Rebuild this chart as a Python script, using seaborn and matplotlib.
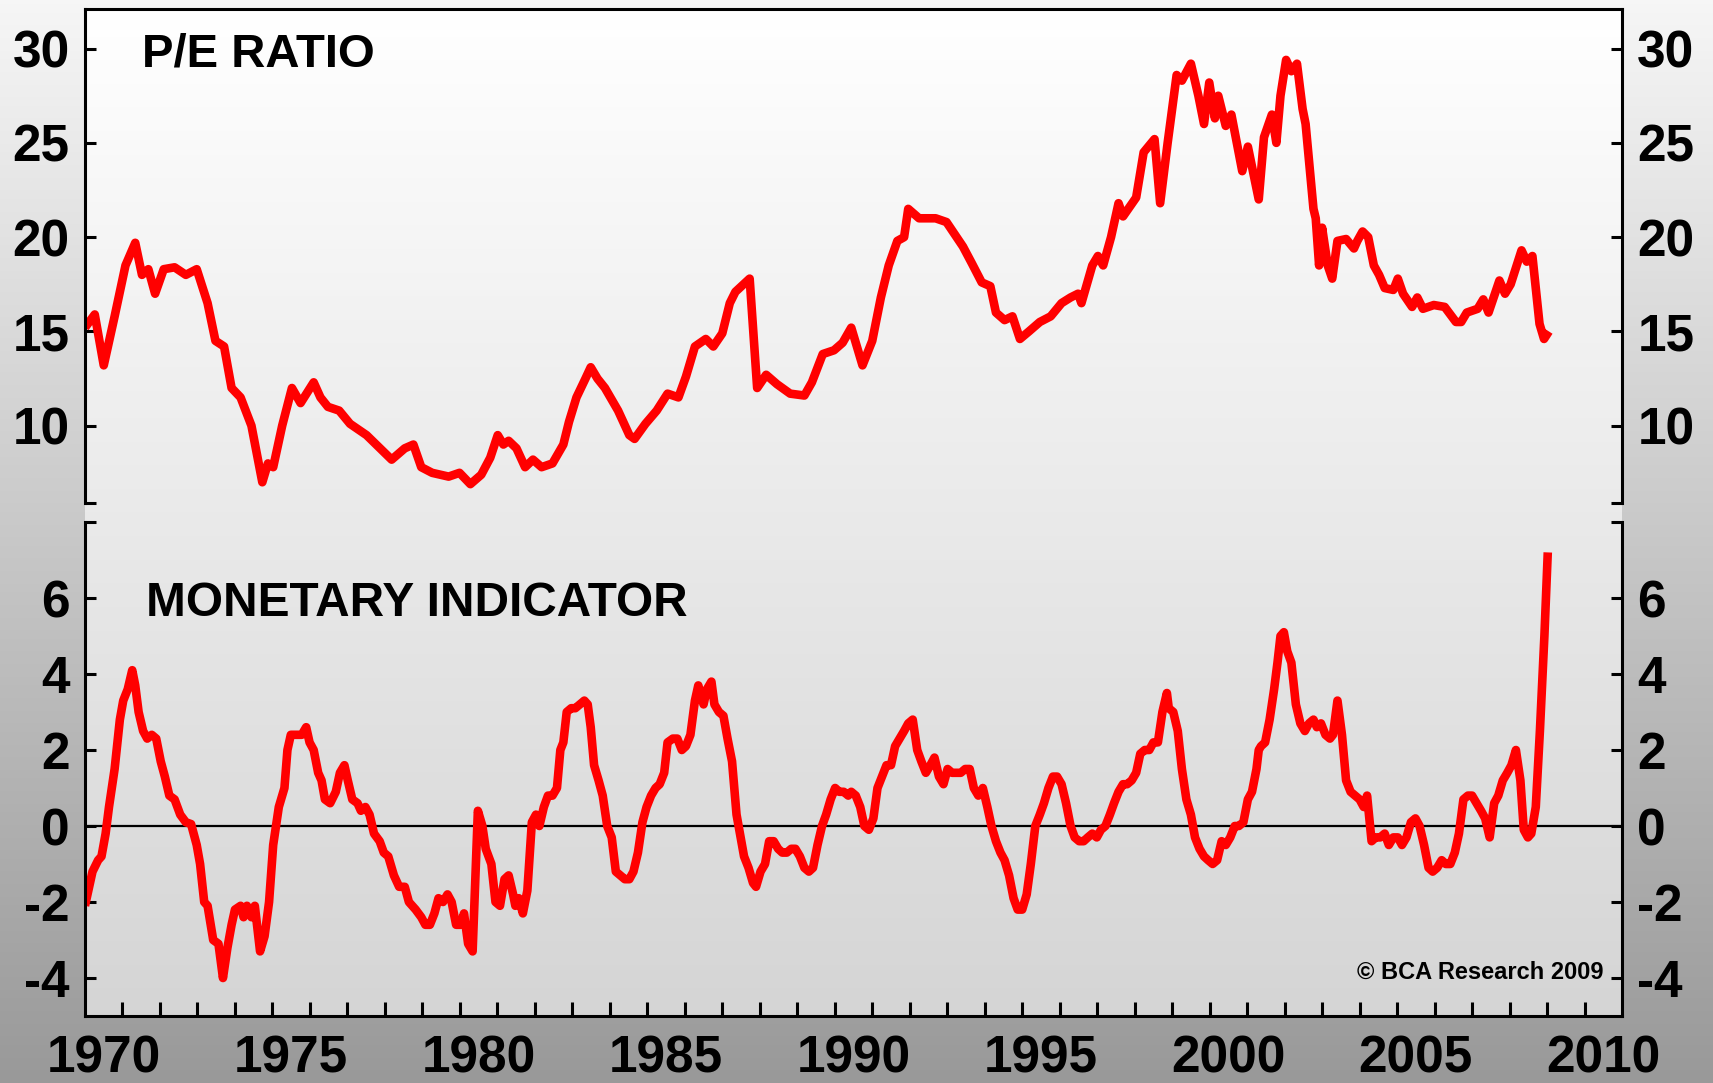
import numpy as np
import matplotlib
matplotlib.use('Agg')
import matplotlib.pyplot as plt
import seaborn as sns


# P/E ratio (decimal years, value)
pe_year = [1970.00, 1970.26, 1970.50, 1970.79, 1971.08, 1971.34, 1971.52, 1971.69, 1971.87, 1972.10,
           1972.39, 1972.69, 1972.98, 1973.27, 1973.48, 1973.71, 1973.91, 1974.15, 1974.44, 1974.73,
           1974.88, 1975.02, 1975.26, 1975.52, 1975.75, 1976.10, 1976.28, 1976.48, 1976.78, 1977.07,
           1977.51, 1978.18, 1978.53, 1978.76, 1978.97, 1979.26, 1979.70, 1979.99, 1980.28, 1980.57,
           1980.81, 1981.01, 1981.16, 1981.30, 1981.51, 1981.74, 1981.95, 1982.18, 1982.47, 1982.76,
           1982.91, 1983.11, 1983.35, 1983.49, 1983.67, 1983.87, 1984.22, 1984.52, 1984.66, 1984.95,
           1985.25, 1985.54, 1985.83, 1986.03, 1986.27, 1986.56, 1986.76, 1987.00, 1987.20, 1987.35,
           1987.73, 1987.93, 1988.17, 1988.46, 1988.81, 1989.19, 1989.39, 1989.68, 1989.98, 1990.21,
           1990.44, 1990.74, 1991.00, 1991.23, 1991.44, 1991.67, 1991.85, 1991.96, 1992.25, 1992.69,
           1992.98, 1993.42, 1993.66, 1993.92, 1994.15, 1994.30, 1994.53, 1994.74, 1994.94, 1995.18,
           1995.47, 1995.76, 1996.05, 1996.29, 1996.49, 1996.58, 1996.87, 1997.02, 1997.16, 1997.37,
           1997.57, 1997.69, 1998.04, 1998.24, 1998.53, 1998.68, 1998.88, 1999.12, 1999.26, 1999.50,
           1999.70, 1999.85, 1999.99, 2000.14, 2000.23, 2000.43, 2000.58, 2000.87, 2001.02, 2001.31,
           2001.45, 2001.66, 2001.78, 2001.89, 2002.04, 2002.18, 2002.33, 2002.48, 2002.56, 2002.77,
           2002.83, 2002.92, 2003.00, 2003.15, 2003.27, 2003.41, 2003.64, 2003.85, 2003.94, 2004.08,
           2004.23, 2004.38, 2004.52, 2004.67, 2004.90, 2005.02, 2005.16, 2005.40, 2005.54, 2005.69,
           2005.98, 2006.27, 2006.57, 2006.71, 2006.86, 2007.15, 2007.30, 2007.44, 2007.73, 2007.88,
           2008.03, 2008.32, 2008.46, 2008.61, 2008.80, 2008.92, 2009.05]
pe_val = [15.2, 15.9, 13.2, 15.8, 18.5, 19.7, 18.0, 18.3, 17.0, 18.3,
          18.4, 18.0, 18.3, 16.5, 14.5, 14.2, 12.0, 11.5, 10.0, 7.0,
          8.0, 7.8, 10.0, 12.0, 11.2, 12.3, 11.5, 11.0, 10.8, 10.1,
          9.5, 8.2, 8.8, 9.0, 7.8, 7.5, 7.3, 7.5, 6.9, 7.4,
          8.3, 9.5, 9.0, 9.2, 8.8, 7.8, 8.2, 7.8, 8.0, 9.0,
          10.2, 11.5, 12.5, 13.1, 12.5, 12.0, 10.8, 9.5, 9.3, 10.1,
          10.8, 11.7, 11.5, 12.6, 14.2, 14.6, 14.2, 14.9, 16.5, 17.1,
          17.8, 12.0, 12.7, 12.2, 11.7, 11.6, 12.3, 13.8, 14.0, 14.4,
          15.2, 13.2, 14.5, 16.8, 18.5, 19.8, 20.0, 21.5, 21.0, 21.0,
          20.8, 19.5, 18.6, 17.6, 17.4, 16.0, 15.6, 15.8, 14.6, 15.0,
          15.5, 15.8, 16.5, 16.8, 17.0, 16.5, 18.5, 19.0, 18.5, 20.0,
          21.8, 21.1, 22.1, 24.5, 25.2, 21.8, 25.0, 28.6, 28.3, 29.2,
          27.5, 26.0, 28.2, 26.3, 27.5, 25.9, 26.5, 23.5, 24.8, 22.0,
          25.3, 26.5, 25.0, 27.5, 29.4, 28.8, 29.2, 26.8, 26.0, 21.5,
          21.0, 18.5, 20.5, 18.5, 17.8, 19.8, 19.9, 19.4, 19.8, 20.3,
          20.0, 18.5, 18.0, 17.3, 17.2, 17.8, 17.0, 16.3, 16.8, 16.2,
          16.4, 16.3, 15.5, 15.5, 16.0, 16.2, 16.7, 16.0, 17.7, 17.0,
          17.5, 19.3, 18.7, 19.0, 15.4, 14.6, 15.0]

# Monetary indicator
mi_year = [1970.00, 1970.20, 1970.35, 1970.44, 1970.55, 1970.64, 1970.79, 1970.93, 1971.02, 1971.14,
           1971.26, 1971.34, 1971.43, 1971.55, 1971.66, 1971.78, 1971.90, 1972.02, 1972.13, 1972.25,
           1972.39, 1972.54, 1972.69, 1972.83, 1972.98, 1973.07, 1973.18, 1973.27, 1973.42, 1973.56,
           1973.68, 1973.80, 1973.91, 1974.00, 1974.15, 1974.23, 1974.32, 1974.44, 1974.53, 1974.67,
           1974.79, 1974.91, 1975.02, 1975.17, 1975.32, 1975.40, 1975.49, 1975.67, 1975.78, 1975.90,
           1975.99, 1976.10, 1976.22, 1976.31, 1976.40, 1976.54, 1976.69, 1976.80, 1976.92, 1977.01,
           1977.13, 1977.27, 1977.36, 1977.48, 1977.59, 1977.71, 1977.86, 1977.97, 1978.09, 1978.24,
           1978.38, 1978.53, 1978.64, 1978.82, 1978.97, 1979.08, 1979.20, 1979.32, 1979.43, 1979.55,
           1979.67, 1979.78, 1979.90, 1980.02, 1980.11, 1980.22, 1980.34, 1980.48, 1980.60, 1980.69,
           1980.84, 1980.95, 1981.07, 1981.19, 1981.30, 1981.42, 1981.48, 1981.57, 1981.68, 1981.80,
           1981.92, 1982.03, 1982.12, 1982.24, 1982.35, 1982.47, 1982.59, 1982.68, 1982.76, 1982.85,
           1982.97, 1983.08, 1983.20, 1983.32, 1983.41, 1983.49, 1983.58, 1983.70, 1983.81, 1983.93,
           1984.05, 1984.16, 1984.28, 1984.40, 1984.52, 1984.63, 1984.75, 1984.87, 1984.98, 1985.10,
           1985.22, 1985.33, 1985.45, 1985.54, 1985.68, 1985.80, 1985.92, 1986.03, 1986.15, 1986.27,
           1986.36, 1986.50, 1986.59, 1986.71, 1986.79, 1986.91, 1987.03, 1987.14, 1987.26, 1987.38,
           1987.47, 1987.58, 1987.70, 1987.82, 1987.90, 1988.02, 1988.14, 1988.25, 1988.37, 1988.49,
           1988.60, 1988.72, 1988.84, 1988.95, 1989.07, 1989.19, 1989.31, 1989.42, 1989.54, 1989.66,
           1989.77, 1989.89, 1990.01, 1990.12, 1990.24, 1990.36, 1990.44, 1990.56, 1990.68, 1990.79,
           1990.91, 1991.03, 1991.14, 1991.26, 1991.38, 1991.50, 1991.61, 1991.73, 1991.85, 1991.96,
           1992.08, 1992.20, 1992.31, 1992.43, 1992.55, 1992.66, 1992.78, 1992.90, 1993.01, 1993.13,
           1993.25, 1993.36, 1993.48, 1993.60, 1993.71, 1993.83, 1993.95, 1994.07, 1994.18, 1994.30,
           1994.42, 1994.53, 1994.65, 1994.77, 1994.88, 1995.00, 1995.12, 1995.23, 1995.35, 1995.47,
           1995.58, 1995.70, 1995.82, 1995.93, 1996.05, 1996.17, 1996.29, 1996.40, 1996.52, 1996.64,
           1996.75, 1996.87, 1996.99, 1997.10, 1997.22, 1997.34, 1997.45, 1997.57, 1997.69, 1997.80,
           1997.92, 1998.04, 1998.15, 1998.27, 1998.39, 1998.50, 1998.62, 1998.74, 1998.86, 1998.91,
           1999.03, 1999.15, 1999.26, 1999.38, 1999.50, 1999.61, 1999.73, 1999.85, 1999.96, 2000.08,
           2000.20, 2000.32, 2000.43, 2000.55, 2000.67, 2000.78, 2000.90, 2001.02, 2001.13, 2001.25,
           2001.31, 2001.37, 2001.48, 2001.60, 2001.72, 2001.81, 2001.89, 2001.98, 2002.07, 2002.18,
           2002.30, 2002.42, 2002.54, 2002.65, 2002.77, 2002.86, 2002.97, 2003.09, 2003.21, 2003.29,
           2003.41, 2003.53, 2003.64, 2003.76, 2003.88, 2004.00, 2004.11, 2004.20, 2004.32, 2004.43,
           2004.55, 2004.67, 2004.78, 2004.90, 2005.02, 2005.13, 2005.25, 2005.37, 2005.49, 2005.60,
           2005.72, 2005.84, 2005.95, 2006.07, 2006.19, 2006.30, 2006.42, 2006.54, 2006.65, 2006.77,
           2006.89, 2007.00, 2007.12, 2007.24, 2007.35, 2007.47, 2007.59, 2007.70, 2007.82, 2007.94,
           2008.05, 2008.17, 2008.29, 2008.38, 2008.49, 2008.58, 2008.70, 2008.81, 2008.93, 2009.02]
mi_val = [-2.1, -1.2, -0.9, -0.8, -0.2, 0.5, 1.5, 2.8, 3.3, 3.6,
          4.1, 3.7, 3.0, 2.5, 2.3, 2.4, 2.3, 1.7, 1.3, 0.8,
          0.7, 0.3, 0.1, 0.05, -0.5, -1.0, -2.0, -2.1, -3.0, -3.1,
          -4.0, -3.2, -2.6, -2.2, -2.1, -2.4, -2.1, -2.4, -2.1, -3.3,
          -2.9, -2.0, -0.5, 0.5, 1.0, 2.0, 2.4, 2.4, 2.4, 2.6,
          2.2, 2.0, 1.4, 1.2, 0.7, 0.6, 0.9, 1.4, 1.6, 1.2,
          0.7, 0.6, 0.4, 0.5, 0.3, -0.2, -0.4, -0.7, -0.8, -1.3,
          -1.6, -1.6, -2.0, -2.2, -2.4, -2.6, -2.6, -2.3, -1.9, -2.0,
          -1.8, -2.0, -2.6, -2.6, -2.3, -3.1, -3.3, 0.4, 0.0, -0.6,
          -1.0, -2.0, -2.1, -1.4, -1.3, -1.8, -2.1, -1.9, -2.3, -1.7,
          0.1, 0.3, 0.0, 0.5, 0.8, 0.8, 1.0, 2.0, 2.2, 3.0,
          3.1, 3.1, 3.2, 3.3, 3.2, 2.6, 1.6, 1.2, 0.8, 0.0,
          -0.3, -1.2, -1.3, -1.4, -1.4, -1.2, -0.7, 0.1, 0.5, 0.8,
          1.0, 1.1, 1.4, 2.2, 2.3, 2.3, 2.0, 2.1, 2.4, 3.3,
          3.7, 3.2, 3.6, 3.8, 3.2, 3.0, 2.9, 2.3, 1.7, 0.3,
          -0.2, -0.8, -1.1, -1.5, -1.6, -1.2, -1.0, -0.4, -0.4, -0.6,
          -0.7, -0.7, -0.6, -0.6, -0.8, -1.1, -1.2, -1.1, -0.5, 0.0,
          0.3, 0.7, 1.0, 0.9, 0.9, 0.8, 0.9, 0.8, 0.5, 0.0,
          -0.1, 0.2, 1.0, 1.3, 1.6, 1.6, 2.1, 2.3, 2.5, 2.7,
          2.8, 2.0, 1.7, 1.4, 1.6, 1.8, 1.3, 1.1, 1.5, 1.4,
          1.4, 1.4, 1.5, 1.5, 1.0, 0.8, 1.0, 0.5, 0.0, -0.4,
          -0.7, -0.9, -1.3, -1.9, -2.2, -2.2, -1.8, -1.0, 0.0, 0.3,
          0.6, 1.0, 1.3, 1.3, 1.1, 0.6, 0.0, -0.3, -0.4, -0.4,
          -0.3, -0.2, -0.3, -0.1, 0.0, 0.3, 0.6, 0.9, 1.1, 1.1,
          1.2, 1.4, 1.9, 2.0, 2.0, 2.2, 2.2, 3.0, 3.5, 3.1,
          3.0, 2.5, 1.5, 0.7, 0.3, -0.3, -0.6, -0.8, -0.9, -1.0,
          -0.9, -0.4, -0.5, -0.3, 0.0, 0.0, 0.1, 0.7, 0.9, 1.5,
          2.0, 2.1, 2.2, 2.8, 3.6, 4.3, 5.0, 5.1, 4.6, 4.3,
          3.2, 2.7, 2.5, 2.7, 2.8, 2.6, 2.7, 2.4, 2.3, 2.4,
          3.3, 2.4, 1.2, 0.9, 0.8, 0.7, 0.5, 0.8, -0.4, -0.3,
          -0.3, -0.2, -0.5, -0.3, -0.3, -0.5, -0.3, 0.1, 0.2, 0.0,
          -0.5, -1.1, -1.2, -1.1, -0.9, -1.0, -1.0, -0.7, -0.2, 0.7,
          0.8, 0.8, 0.6, 0.4, 0.2, -0.3, 0.6, 0.8, 1.2, 1.4,
          1.6, 2.0, 1.2, -0.1, -0.3, -0.2, 0.5, 2.5, 5.0, 7.2]

pe_ticks = [10, 15, 20, 25, 30]
mi_ticks = [-4, -2, 0, 2, 4, 6]
year_labels = [1970, 1975, 1980, 1985, 1990, 1995, 2000, 2005, 2010]

sns.set_theme(style='white')
plt.rcParams['font.family'] = ['Liberation Sans', 'DejaVu Sans']
plt.rcParams['font.weight'] = 'bold'
plt.rcParams['text.color'] = 'black'
plt.rcParams['xtick.color'] = 'black'
plt.rcParams['ytick.color'] = 'black'
plt.rcParams['axes.labelcolor'] = 'black'

W, H = 1713, 1083
fig = plt.figure(figsize=(W / 100, H / 100), dpi=100)

# figure background: light gray at top to darker gray at bottom
bg = fig.add_axes([0, 0, 1, 1], zorder=-3)
g = np.linspace(0.965, 0.60, 256).reshape(-1, 1)
bg.imshow(np.dstack([g, g, g]), aspect='auto', extent=[0, 1, 0, 1])
bg.axis('off')

left, right = 85 / W, 1622 / W
top_up, bot_up = 1 - 9 / H, 1 - 503 / H
top_lo, bot_lo = 1 - 522 / H, 1 - 1016 / H

# plot area gradient: white to light gray
pa = fig.add_axes([left, bot_lo, right - left, top_up - bot_lo], zorder=-2)
g2 = np.linspace(1.0, 0.835, 256).reshape(-1, 1)
pa.imshow(np.dstack([g2, g2, g2]), aspect='auto', extent=[0, 1, 0, 1])
pa.axis('off')

ax1 = fig.add_axes([left, bot_up, right - left, top_up - bot_up])
ax2 = fig.add_axes([left, bot_lo, right - left, top_lo - bot_lo])

for ax in (ax1, ax2):
    ax.set_facecolor('none')
    ax.set_xlim(1970, 2011)
    for s in ax.spines.values():
        s.set_color('black')
        s.set_linewidth(2.2)

lw = 6.2
sns.lineplot(x=pe_year, y=pe_val, ax=ax1, color='#ff0000', lw=lw, estimator=None, sort=False)
sns.lineplot(x=mi_year, y=mi_val, ax=ax2, color='#ff0000', lw=lw, estimator=None, sort=False)
for ax in (ax1, ax2):
    for ln in ax.lines:
        ln.set_solid_joinstyle('round')
        ln.set_solid_capstyle('butt')

ax2.axhline(0, color='black', lw=1.6, zorder=1.5)

# upper panel
ax1.set_ylim(5.9, 32.1)
ax1.spines['bottom'].set_visible(False)
ax1.set_xticks([])
ax1.set_yticks([5.9] + pe_ticks)
ax1.set_yticklabels([''] + [str(t) for t in pe_ticks])

# lower panel
ax2.set_ylim(-5, 8)
ax2.spines['top'].set_visible(False)
ax2.set_yticks(mi_ticks + [8])
ax2.set_yticklabels([str(t) for t in mi_ticks] + [''])
ax2.set_xticks(list(range(1971, 2011)))
ax2.set_xticklabels([])
ax2.set_xticks([y + 0.5 for y in year_labels], minor=True)
ax2.set_xticklabels([str(y) for y in year_labels], minor=True)
ax2.tick_params(axis='x', which='major', direction='in', length=10, width=2.2, bottom=True, top=False)
ax2.tick_params(axis='x', which='minor', length=0, pad=13, labelsize=37)

for ax in (ax1, ax2):
    ax.tick_params(axis='y', which='major', direction='in', length=8, width=2.2,
                   left=True, right=True, labelleft=True, labelright=True,
                   labelsize=37, pad=11)
    ax.set_xlabel('')
    ax.set_ylabel('')
    for lab in ax.get_xticklabels(which='both') + ax.get_yticklabels():
        lab.set_fontweight('bold')
        lab.set_color('black')

ax1.text(0.037, 0.907, 'P/E RATIO', transform=ax1.transAxes, fontsize=34,
         fontweight='bold', va='center', ha='left', color='black')
ax2.text(0.040, 0.836, 'MONETARY INDICATOR', transform=ax2.transAxes, fontsize=34.4,
         fontweight='bold', va='center', ha='left', color='black')
ax2.text(0.988, 0.089, '\u00a9 BCA Research 2009', transform=ax2.transAxes, fontsize=17,
         fontweight='bold', va='center', ha='right', color='black')

fig.savefig('out.png', dpi=100)
